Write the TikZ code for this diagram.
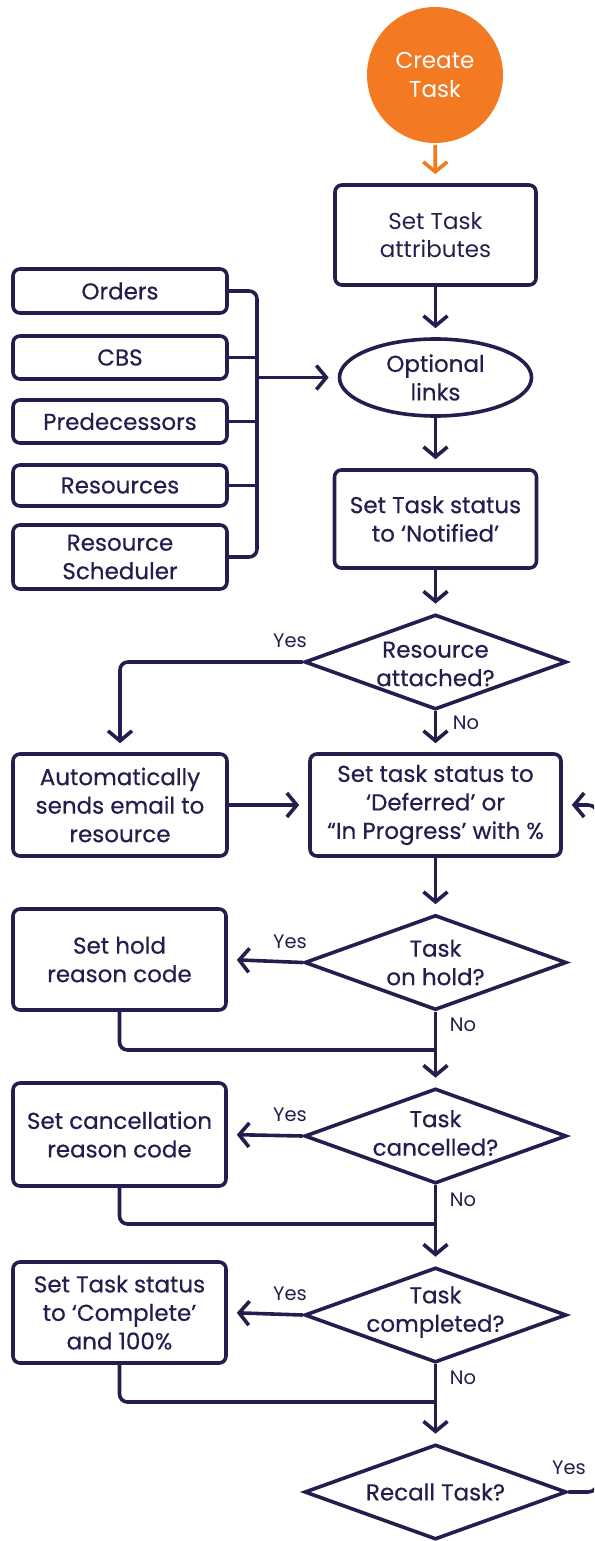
\documentclass[tikz,border=0pt]{standalone}
\usepackage{fontspec}
\setmainfont{Poppins}
\newfontfamily\heavyfont{Poppins}[FakeBold=0.5]
\usetikzlibrary{shapes.geometric,arrows.meta}
\definecolor{ink}{HTML}{241E4E}
\definecolor{brand}{HTML}{F37A23}
\begin{document}
\begin{tikzpicture}[x=1pt,y=-1pt,
  line width=3.6pt, draw=ink,
  plain/.style={font=\fontsize{23}{28.5}\selectfont, text=ink, align=center},
  txt/.style={font=\heavyfont\fontsize{23}{28.5}\selectfont, text=ink, align=center},
  lbl/.style={font=\fontsize{19.5}{20}\selectfont, text=ink, inner sep=0},
  box/.style={draw=ink, rounded corners=7pt, txt, inner sep=0},
  dia/.style={draw=ink, diamond, inner sep=0, minimum width=262, minimum height=95},
  arr/.style={draw=ink, -{Straight Barb[length=10pt,width=24pt]}, shorten >=9pt},
  link/.style={draw=ink, rounded corners=8pt},
]
\useasboundingbox (0,0) rectangle (594,1541);
\clip (0,0) rectangle (594,1541);

% main column
\node[circle, fill=brand, minimum size=136, inner sep=0, font=\fontsize{23}{28.5}\selectfont, text=white, align=center] (start) at (435,75) {Create\\Task};
\node[box, plain, minimum width=201, minimum height=100] (attr) at (435.5,235) {Set Task\\attributes};
\node[ellipse, draw=ink, minimum width=192, minimum height=77, inner sep=0, txt] (links) at (435.5,377.5) {Optional\\links};
\node[box, minimum width=202, minimum height=98] (notif) at (435.5,519) {Set Task status\\to ‘Notified’};
\node[dia] (dres) at (435.5,662) {};
\node[txt, inner sep=0] (dres-t) at (435.5,664) {Resource\\attached?};
\node[box, minimum width=251, minimum height=102] (defer) at (435.5,805) {Set task status to\\‘Deferred’ or\\“In Progress’ with \%};
\node[dia] (dhold) at (435.5,962.5) {};
\node[txt, inner sep=0] (dhold-t) at (435.5,962.5) {Task\\on hold?};
\node[dia] (dcanc) at (435.5,1136) {};
\node[txt, inner sep=0] (dcanc-t) at (435.5,1133) {Task\\cancelled?};
\node[dia] (dcomp) at (435.5,1315) {};
\node[txt, inner sep=0] (dcomp-t) at (435.5,1312) {Task\\completed?};
\node[dia] (drec) at (435.5,1492) {};
\node[txt, inner sep=0] (drec-t) at (435.5,1492) {Recall Task?};

% left column
\node[box, minimum width=214, minimum height=44] (orders) at (120,291) {Orders};
\node[box, minimum width=214, minimum height=43] (cbs) at (120,357.5) {CBS};
\node[box, minimum width=214, minimum height=43] (pred) at (120,421.5) {Predecessors};
\node[box, minimum width=214, minimum height=41] (res) at (120,485.5) {Resources};
\node[box, minimum width=214, minimum height=64] (rsch) at (120,557) {Resource\\Scheduler};
\node[box, minimum width=214, minimum height=102] (auto) at (120,805) {Automatically\\sends email to\\resource};
\node[box, minimum width=213, minimum height=101] (hold) at (119.5,959.5) {Set hold\\reason code};
\node[box, minimum width=213, minimum height=103] (canc) at (119.5,1134.5) {Set cancellation\\reason code};
\node[box, minimum width=213, minimum height=101] (comp) at (119.5,1312.5) {Set Task status\\to ‘Complete’\\and 100\%};

% helper coordinates
\coordinate (bus) at (257,377.5);
\coordinate (m1) at (435.5,1050);
\coordinate (m2) at (435.5,1224);
\coordinate (m3) at (435.5,1402);
\coordinate (loop) at (598,1492);

% main flow
\draw[arr, draw=brand] (start) -- (attr);
\draw[arr] (attr) -- (links);
\draw[arr] (links) -- (notif);
\draw[arr] (notif) -- (dres);
\draw[arr] (dres) -- (defer);
\draw[arr] (defer) -- (dhold);
\draw[arr] (dhold.south) -- (dcanc.north);
\draw[arr] (dcanc.south) -- (dcomp.north);
\draw[arr] (dcomp.south) -- (drec.north);

% optional link sources gathered on one bus
\draw[link] (orders.east) -- (orders.east -| bus) -- (rsch.east -| bus) -- (rsch.east);
\draw (cbs.east) -- (cbs.east -| bus);
\draw (pred.east) -- (pred.east -| bus);
\draw (res.east) -- (res.east -| bus);
\draw[arr] (bus) -- (links.west);

% branches
\draw[arr, rounded corners=8pt] (dres.west) -| (auto.north);
\draw[arr] (auto.east) -- (defer.west);
\draw[arr] (dhold.west) -- (hold.east);
\draw[arr] (dcanc.west) -- (canc.east);
\draw[arr] (dcomp.west) -- (comp.east);
\draw[link] (hold.south) |- (m1);
\draw[link] (canc.south) |- (m2);
\draw[link] (comp.south) |- (m3);
\draw[arr, rounded corners=10pt] (drec.east) -- (loop) |- (defer.east);

% branch labels
\node[lbl] (y1) at (290,641) {Yes};
\node[lbl, anchor=west] (n1) at (451,723) {No};
\node[lbl] (y2) at (290,942) {Yes};
\node[lbl, anchor=west] (n2) at (448,1025) {No};
\node[lbl] (y3) at (290,1115) {Yes};
\node[lbl, anchor=west] (n3) at (448,1200) {No};
\node[lbl] (y4) at (290,1294) {Yes};
\node[lbl, anchor=west] (n4) at (448,1378) {No};
\node[lbl] (y5) at (569,1468) {Yes};
\end{tikzpicture}
\end{document}
